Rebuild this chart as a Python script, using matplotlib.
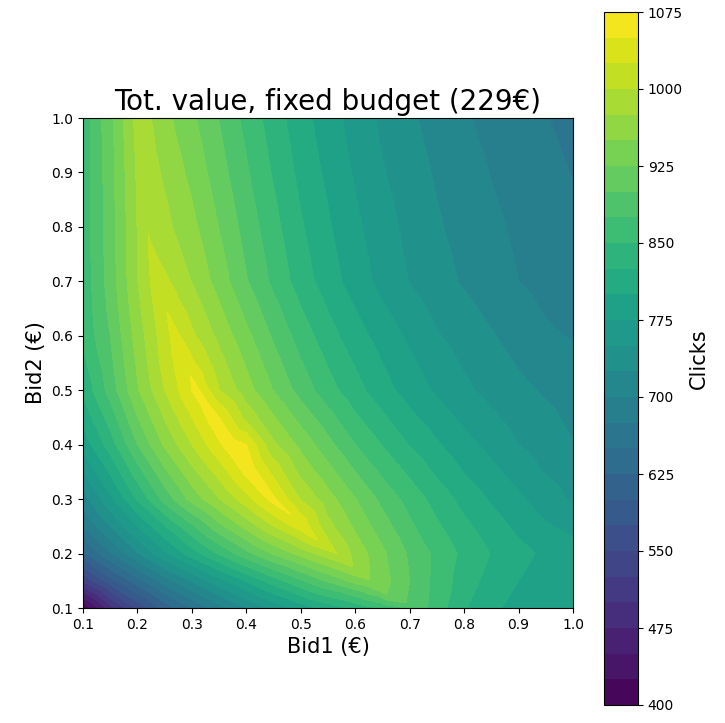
import numpy as np
import matplotlib
matplotlib.use("Agg")
import matplotlib.pyplot as plt
import matplotlib.tri as mtri

# Grid of bids (euro)
bid1 = [0.10, 0.15, 0.20, 0.25, 0.30, 0.35, 0.40, 0.45, 0.50, 0.55,
        0.60, 0.65, 0.70, 0.75, 0.80, 0.85, 0.90, 0.95, 1.00]
bid2 = [0.10, 0.15, 0.20, 0.25, 0.30, 0.35, 0.40, 0.45, 0.50, 0.55,
        0.60, 0.65, 0.70, 0.75, 0.80, 0.85, 0.90, 0.95, 1.00]

# Clicks, one row per Bid2 value (bottom to top)
row_010 = [405, 490, 555, 610, 652, 690, 725, 757, 786, 810, 832, 855, 878, 862, 828, 805, 792, 785, 780]
row_015 = [530, 590, 640, 688, 728, 766, 802, 838, 872, 904, 934, 936, 900, 866, 838, 815, 800, 790, 782]
row_020 = [620, 672, 722, 770, 813, 853, 892, 928, 959, 989, 967, 930, 896, 868, 844, 824, 808, 795, 785]
row_025 = [675, 725, 775, 823, 870, 917, 958, 1000, 1041, 983, 945, 911, 880, 854, 831, 812, 794, 778, 768]
row_030 = [712, 769, 827, 884, 934, 974, 1015, 1057, 998, 960, 926, 893, 865, 840, 816, 797, 780, 762, 746]
row_035 = [750, 803, 864, 919, 967, 1010, 1057, 1017, 968, 934, 900, 870, 845, 820, 799, 782, 764, 748, 737]
row_040 = [785, 837, 900, 954, 1000, 1046, 1050, 980, 943, 908, 875, 849, 824, 803, 784, 767, 750, 738, 726]
row_045 = [808, 861, 924, 977, 1025, 1050, 992, 952, 916, 884, 854, 829, 806, 787, 769, 754, 740, 730, 720]
row_050 = [830, 885, 947, 1000, 1050, 1001, 961, 924, 890, 860, 834, 810, 789, 771, 755, 742, 731, 722, 715]
row_055 = [843, 893, 954, 1010, 1030, 985, 947, 910, 877, 848, 823, 800, 780, 762, 747, 735, 723, 713, 707]
row_060 = [855, 900, 961, 1015, 1005, 968, 932, 896, 864, 835, 811, 789, 770, 752, 739, 727, 715, 704, 698]
row_065 = [858, 906, 968, 1022, 990, 954, 917, 883, 851, 824, 800, 778, 760, 744, 731, 719, 708, 698, 691]
row_070 = [860, 911, 974, 1006, 974, 939, 902, 869, 838, 812, 788, 767, 749, 735, 722, 711, 700, 692, 683]
row_075 = [860, 912, 976, 991, 966, 932, 896, 864, 833, 808, 784, 764, 746, 732, 719, 708, 698, 690, 682]
row_080 = [860, 913, 976, 982, 957, 924, 890, 858, 828, 803, 780, 760, 743, 728, 716, 705, 696, 688, 680]
row_085 = [860, 914, 977, 977, 950, 918, 884, 853, 823, 799, 776, 756, 740, 725, 713, 702, 693, 685, 677]
row_090 = [860, 915, 979, 970, 943, 911, 878, 847, 818, 794, 772, 752, 736, 722, 710, 699, 690, 682, 674]
row_095 = [860, 916, 982, 963, 937, 905, 873, 842, 814, 790, 768, 748, 732, 719, 706, 696, 688, 679, 671]
row_100 = [860, 918, 986, 958, 930, 899, 867, 837, 810, 786, 765, 745, 729, 716, 703, 693, 685, 676, 668]

# Crest of the surface (where budget becomes binding)
ridge_bid1 = [0.203, 0.206, 0.208, 0.210, 0.212, 0.214, 0.216, 0.218, 0.219, 0.221,
              0.225, 0.230, 0.236, 0.244, 0.252, 0.260, 0.268, 0.278, 0.288, 0.298,
              0.310, 0.324, 0.338, 0.355, 0.372, 0.390, 0.408, 0.427, 0.447, 0.465,
              0.484, 0.498, 0.513, 0.532, 0.549, 0.566, 0.581, 0.596, 0.611, 0.627,
              0.642, 0.658, 0.676, 0.694, 0.715]
ridge_bid2 = [1.000, 0.975, 0.950, 0.925, 0.900, 0.875, 0.850, 0.825, 0.800, 0.775,
              0.750, 0.725, 0.700, 0.675, 0.650, 0.625, 0.600, 0.575, 0.550, 0.525,
              0.500, 0.475, 0.450, 0.425, 0.400, 0.375, 0.350, 0.325, 0.300, 0.285,
              0.270, 0.255, 0.240, 0.224, 0.212, 0.200, 0.188, 0.175, 0.163, 0.151,
              0.138, 0.124, 0.116, 0.109, 0.100]
ridge_clicks = [990, 991, 992, 993, 995, 996, 997, 998, 999, 1001,
                1005, 1009, 1013, 1019, 1024, 1029, 1034, 1040, 1045, 1050.5,
                1055, 1058, 1061, 1063, 1064, 1064, 1063, 1061, 1058, 1054,
                1049.5, 1043, 1035, 1024.5, 1012, 999.5, 987, 974.5, 962, 949.5,
                937, 924.5, 912, 899.5, 888]

grid_rows = [row_010, row_015, row_020, row_025, row_030, row_035, row_040,
             row_045, row_050, row_055, row_060, row_065, row_070, row_075,
             row_080, row_085, row_090, row_095, row_100]

levels = list(range(400, 1076, 25))
cbar_ticks = list(range(400, 1076, 75))
axis_ticks = [0.1, 0.2, 0.3, 0.4, 0.5, 0.6, 0.7, 0.8, 0.9, 1.0]

# Assemble scattered samples: grid + crest
GX, GY = np.meshgrid(bid1, bid2)
px = np.concatenate([GX.ravel(), np.array(ridge_bid1)])
py = np.concatenate([GY.ravel(), np.array(ridge_bid2)])
pz = np.concatenate([np.array(grid_rows, dtype=float).ravel(), np.array(ridge_clicks)])
keep = np.ones(len(px), dtype=bool)
for i in range(GX.size):
    d = np.hypot(np.array(ridge_bid1) - px[i], np.array(ridge_bid2) - py[i])
    if d.min() < 0.006:
        keep[i] = False
tri = mtri.Triangulation(px[keep], py[keep])

fig = plt.figure(figsize=(7.25, 7.23), dpi=100)
ax = fig.add_axes([83 / 725, 115 / 723, 490 / 725, 490 / 723])
cax = fig.add_axes([604 / 725, 18 / 723, 34 / 725, 693 / 723])

cs = ax.tricontourf(tri, pz[keep], levels=levels, cmap="viridis")

ax.set_xlim(0.1, 1.0)
ax.set_ylim(0.1, 1.0)
ax.set_xticks(axis_ticks)
ax.set_yticks(axis_ticks)
ax.tick_params(labelsize=10)
ax.set_xlabel("Bid1 (€)", fontsize=15)
ax.set_ylabel("Bid2 (€)", fontsize=15)
ax.set_title("Tot. value, fixed budget (229€)", fontsize=20)

cb = fig.colorbar(cs, cax=cax, ticks=cbar_ticks)
cb.ax.tick_params(labelsize=10)
cb.set_label("Clicks", fontsize=15)

fig.savefig("out.png", dpi=100)
